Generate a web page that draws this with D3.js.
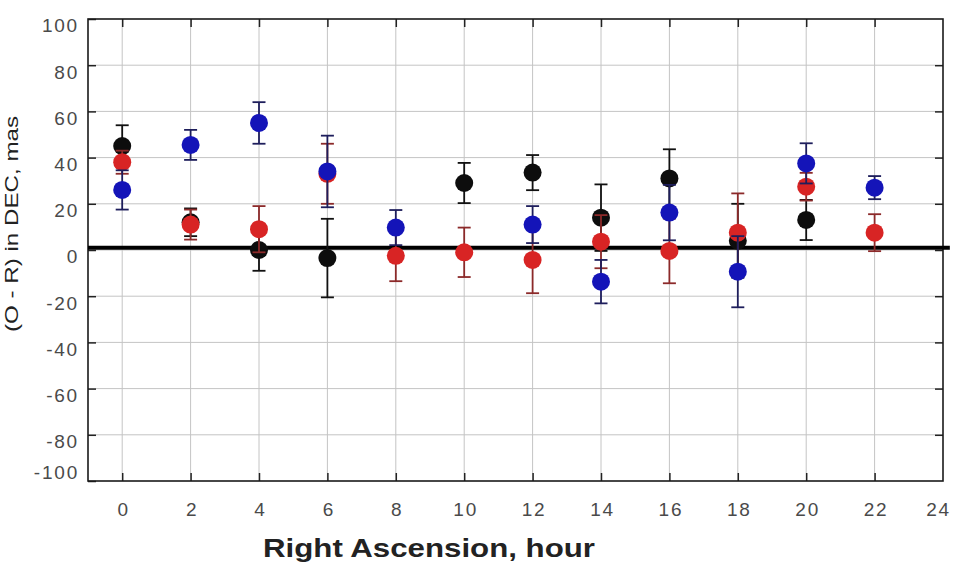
<!DOCTYPE html>
<html>
<head>
<meta charset="utf-8">
<script src="https://cdn.jsdelivr.net/npm/d3@7"></script>
<style>
  html, body { margin: 0; padding: 0; background: #fff; }
  svg { display: block; }
  .tick-label { font-family: "Liberation Sans", Arial, sans-serif; font-size: 19px; fill: #4a4a4a; letter-spacing: 1.8px; }
  .axis-title { font-family: "Liberation Sans", Arial, sans-serif; fill: #222; }
</style>
</head>
<body>
<svg id="chart" width="953" height="569"></svg>
<script>
// Right ascension bins (hours)
const hours = [0, 2, 4, 6, 8, 10, 12, 14, 16, 18, 20, 22];

// (O - R) in DEC, mas — one list of values and errors per series
const blackVals = [45, 12, 0, -3.5, null, 29, 33.5, 14, 31, 4, 13, null];
const blackErr  = [9, 6, 9, 17, null, 8.7, 7.6, 14.4, 12.6, 16, 8.7, null];
const redVals   = [38, 11, 9, 33, -2.5, -1, -4.3, 3.6, -0.4, 7.5, 27.4, 7.5];
const redErr    = [5, 6.5, 10, 13, 11, 10.7, 14.4, 11.5, 14, 17, 6, 8];
const blueVals  = [26, 45.5, 55, 34, 9.7, null, 11, -13.7, 16.2, -9.4, 37.5, 27];
const blueErr   = [8.5, 6.5, 9, 15.5, 7.6, null, 8, 9.4, 12, 15.4, 8.7, 5];

const xTicks = [0, 2, 4, 6, 8, 10, 12, 14, 16, 18, 20, 22, 24];
const yTicks = [-100, -80, -60, -40, -20, 0, 20, 40, 60, 80, 100];

// thick reference level across the panel
const refLevel = 1;
const refSpan = [-1, 24.2];

const series = [
  { vals: blackVals, err: blackErr, fill: "#0d0d0d", bar: "#111111" },
  { vals: redVals,   err: redErr,   fill: "#d82424", bar: "#8c2a2a" },
  { vals: blueVals,  err: blueErr,  fill: "#1414b8", bar: "#1e1e5c" }
];

const svg = d3.select("#chart");
const m = { left: 88, right: 943, top: 19, bottom: 481 };

const x = d3.scaleLinear().domain([-1, 24]).range([m.left, m.right]);
const y = d3.scaleLinear().domain([-100, 100]).range([m.bottom, m.top]);

// plain hyphen for negatives
const fmt = d => String(d);

// grid
const grid = svg.append("g");
grid.selectAll("line.v")
  .data(xTicks.filter(d => d < 24))
  .join("line")
  .attr("class", "v")
  .attr("x1", d => x(d)).attr("x2", d => x(d))
  .attr("y1", m.top).attr("y2", m.bottom)
  .attr("stroke", "#c4c4c4").attr("stroke-width", 1);
grid.selectAll("line.h")
  .data(yTicks.filter(d => d > -100 && d < 100))
  .join("line")
  .attr("class", "h")
  .attr("x1", m.left).attr("x2", m.right)
  .attr("y1", d => y(d)).attr("y2", d => y(d))
  .attr("stroke", "#c4c4c4").attr("stroke-width", 1);

// axes with inward ticks
const styleAxis = g => {
  g.select(".domain").remove();
  g.selectAll(".tick line").attr("stroke", "#222").attr("stroke-width", 1.5);
};

svg.append("g")
  .attr("transform", `translate(0,${m.bottom})`)
  .call(d3.axisBottom(x).tickValues(xTicks).tickSize(-8).tickFormat(fmt))
  .call(styleAxis)
  .call(g => g.selectAll(".tick line").filter(d => d === 24).remove())
  .call(g => g.selectAll(".tick text")
    .attr("class", "tick-label")
    .attr("y", 22).attr("dy", "0.71em")
    .attr("dx", d => d === 24 ? -5 : 1));

svg.append("g")
  .attr("transform", `translate(0,${m.top})`)
  .call(d3.axisTop(x).tickValues(xTicks.filter(d => d < 24)).tickSize(-8).tickFormat(""))
  .call(styleAxis);

svg.append("g")
  .attr("transform", `translate(${m.left},0)`)
  .call(d3.axisLeft(y).tickValues(yTicks).tickSize(-8).tickFormat(fmt))
  .call(styleAxis)
  .call(g => g.selectAll(".tick text")
    .attr("class", "tick-label")
    .attr("x", -9)
    .attr("y", d => d === -100 ? -9 : 6)
    .attr("dy", "0.36em"));

svg.append("g")
  .attr("transform", `translate(${m.right},0)`)
  .call(d3.axisRight(y).tickValues(yTicks.filter(d => d > -100 && d < 100)).tickSize(-8).tickFormat(""))
  .call(styleAxis);

// frame
svg.append("rect")
  .attr("x", m.left).attr("y", m.top)
  .attr("width", m.right - m.left).attr("height", m.bottom - m.top)
  .attr("fill", "none").attr("stroke", "#1a1a1a").attr("stroke-width", 1.6);

// reference line
svg.append("line")
  .attr("x1", x(refSpan[0])).attr("x2", x(refSpan[1]))
  .attr("y1", y(refLevel)).attr("y2", y(refLevel))
  .attr("stroke", "#000").attr("stroke-width", 4);

// error bars and markers, one series at a time
const capHalf = 6.5;
series.forEach(s => {
  const pts = hours
    .map((h, i) => ({ h, v: s.vals[i], e: s.err[i] }))
    .filter(p => p.v !== null);
  const g = svg.append("g");
  const bars = g.selectAll("g.bar").data(pts).join("g")
    .attr("class", "bar")
    .attr("stroke", s.bar).attr("stroke-width", 1.8);
  bars.append("line")
    .attr("x1", d => x(d.h)).attr("x2", d => x(d.h))
    .attr("y1", d => y(d.v + d.e)).attr("y2", d => y(d.v - d.e));
  bars.append("line")
    .attr("x1", d => x(d.h) - capHalf).attr("x2", d => x(d.h) + capHalf)
    .attr("y1", d => y(d.v + d.e)).attr("y2", d => y(d.v + d.e));
  bars.append("line")
    .attr("x1", d => x(d.h) - capHalf).attr("x2", d => x(d.h) + capHalf)
    .attr("y1", d => y(d.v - d.e)).attr("y2", d => y(d.v - d.e));
  g.selectAll("circle").data(pts).join("circle")
    .attr("cx", d => x(d.h)).attr("cy", d => y(d.v))
    .attr("r", 9)
    .attr("fill", s.fill);
});

// axis titles
svg.append("text")
  .attr("class", "axis-title")
  .attr("x", 429).attr("y", 557)
  .attr("text-anchor", "middle")
  .attr("font-size", 25).attr("font-weight", "bold")
  .attr("textLength", 332).attr("lengthAdjust", "spacingAndGlyphs")
  .text("Right Ascension, hour");

svg.append("text")
  .attr("class", "axis-title")
  .attr("transform", "translate(18,224) rotate(-90)")
  .attr("text-anchor", "middle")
  .attr("font-size", 19).attr("fill", "#444")
  .attr("textLength", 216).attr("lengthAdjust", "spacingAndGlyphs")
  .text("(O - R) in DEC, mas");
</script>
</body>
</html>
